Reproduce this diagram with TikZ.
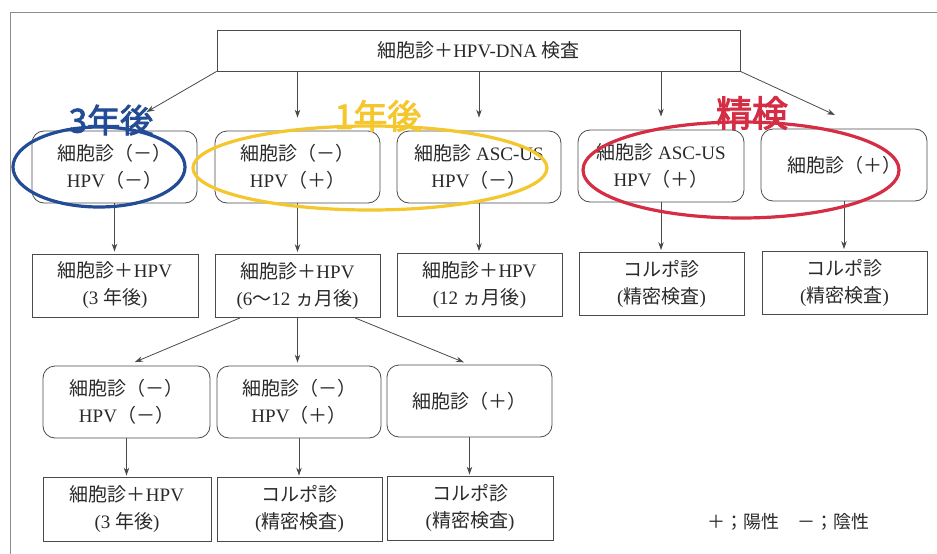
\documentclass[tikz,border=0pt]{standalone}
\usepackage{fontspec}
\setmainfont{Liberation Serif}
\newfontfamily\cjk{Noto Sans CJK JP}
\newfontfamily\cjkbold[FakeBold=2.5]{Noto Sans CJK JP}
\usetikzlibrary{arrows.meta,calc}
\newcommand\J[1]{{\cjk #1}}
\definecolor{inkC}{HTML}{2A2A2A}
\definecolor{lineC}{HTML}{4A4A4A}
\definecolor{blueC}{HTML}{234C96}
\definecolor{yellowC}{HTML}{F4C72E}
\definecolor{redC}{HTML}{D42D44}
\tikzset{
  box/.style={draw=lineC, line width=0.8pt, align=center, inner sep=0pt,
    font=\fontsize{19}{27}\selectfont, text=inkC},
  rbox/.style={box, rounded corners=12pt, minimum width=165pt, minimum height=72pt},
  sbox/.style={box, minimum width=165pt, minimum height=63pt},
  arr/.style={draw=lineC, line width=0.8pt, -{Stealth[length=8pt,width=5.5pt]}},
  ann/.style={font=\cjkbold\fontsize{33}{33}\selectfont, inner sep=0pt},
  ring/.style={line width=3.2pt}
}
\begin{document}
\begin{tikzpicture}[x=1pt,y=-1pt]
\useasboundingbox[fill=white] (0,0) rectangle (937,554);
% outer frame (partly outside)
\draw[black!45, line width=0.7pt] (10,554) -- (10,12) -- (937,12);

% top box
\node[box, minimum width=523pt, minimum height=41pt] (top) at (478.5,50.5)
  {\J{細胞診＋}HPV-DNA \J{検査}};

% row 1
\node[rbox] (A) at (114.5,167) {\J{細胞診（－）}\\HPV\J{（－）}};
\node[rbox] (B) at (297.5,167) {\J{細胞診（－）}\\HPV\J{（＋）}};
\node[rbox, minimum width=164pt] (C) at (479,167) {\J{細胞診} ASC-US\\HPV\J{（－）}};
\node[rbox, minimum width=166pt] (D) at (661,166) {\J{細胞診} ASC-US\\HPV\J{（＋）}};
\node[rbox, minimum width=166pt] (E) at (844,165) {\J{細胞診（＋）}};

% row 2
\node[sbox, minimum width=166pt] (F) at (115,285.5) {\J{細胞診＋}HPV\\(3 \J{年後})};
\node[sbox] (G) at (297.5,286) {\J{細胞診＋}HPV\\(6\J{〜}12 \J{ヵ月後})};
\node[sbox] (H) at (479.5,285) {\J{細胞診＋}HPV\\(12 \J{ヵ月後})};
\node[sbox] (I) at (661.5,284) {\J{コルポ診}\\(\J{精密検査})};
\node[sbox] (J) at (844.5,283) {\J{コルポ診}\\(\J{精密検査})};

% row 3
\node[rbox, minimum width=167pt] (K) at (126.5,402) {\J{細胞診（－）}\\HPV\J{（－）}};
\node[rbox, minimum width=164pt] (L) at (299,402) {\J{細胞診（－）}\\HPV\J{（＋）}};
\node[rbox] (M) at (469.5,401) {\J{細胞診（＋）}};

% row 4
\node[sbox, minimum width=168pt, minimum height=64pt] (K2) at (127,509) {\J{細胞診＋}HPV\\(3 \J{年後})};
\node[sbox, minimum height=64pt] (L2) at (299.5,509) {\J{コルポ診}\\(\J{精密検査})};
\node[sbox, minimum width=166pt, minimum height=64pt] (M2) at (470,508) {\J{コルポ診}\\(\J{精密検査})};

% legend
\node[anchor=west, inner sep=0pt, text=inkC, font=\cjk\fontsize{18}{18}\selectfont] (legend) at (707,522) {＋；陽性　－；陰性};

% arrows from top box
\coordinate (eTip) at (835,115);
\draw[arr, shorten >=37pt] (top.south west) -- (A.north);
\draw[arr, shorten >=13pt] (top.south -| B.north) -- (B.north);
\draw[arr, shorten >=13pt] (top.south -| C.north) -- (C.north);
\draw[arr, shorten >=13pt] (top.south -| D.north) -- (D.north);
\draw[arr] (top.south east) -- (eTip);

% row1 -> row2
\draw[arr, shorten >=2pt] (A.south) -- (A.south |- F.north);
\draw[arr, shorten >=2pt] (B.south) -- (B.south |- G.north);
\draw[arr, shorten >=2pt] (C.south) -- (C.south |- H.north);
\draw[arr, shorten >=2pt] (D.south) -- (D.south |- I.north);
\draw[arr, shorten >=2pt] (E.south) -- (E.south |- J.north);

% row2 -> row3
\coordinate (g1) at ([xshift=-57.5pt]G.south);
\coordinate (g2) at ([xshift=57.5pt]G.south);
\draw[arr, shorten >=9pt] (g1) -- (K.north);
\draw[arr, shorten >=3pt] (G.south) -- (G.south |- L.north);
\draw[arr, shorten >=6pt] (g2) -- (M.north);

% row3 -> row4
\draw[arr, shorten >=1pt] (K.south) -- (K.south |- K2.north);
\draw[arr, shorten >=1pt] (L.south) -- (L.south |- L2.north);
\draw[arr, shorten >=1pt] (M.south) -- (M.south |- M2.north);

% hand annotations
\node[ann, text=blueC] (t3) at (111,120) {3年後};
\node[ann, text=yellowC, font=\cjkbold\fontsize{34}{34}\selectfont] (t1) at (378,116) {1年後};
\node[ann, text=redC, font=\cjkbold\fontsize{36}{36}\selectfont] (tr) at (752,113) {精検};
\draw[ring, draw=blueC] (99,167) ellipse [x radius=86, y radius=40];
\draw[ring, draw=yellowC] (370,168) ellipse [x radius=177, y radius=42];
\draw[ring, draw=redC] (741,170) ellipse [x radius=158, y radius=48];
\end{tikzpicture}
\end{document}
